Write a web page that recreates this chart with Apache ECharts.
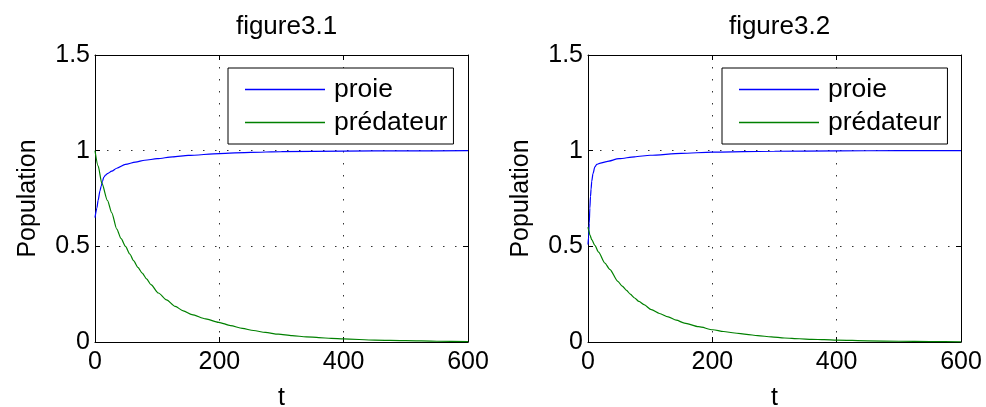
<!DOCTYPE html>
<html>
<head>
<meta charset="utf-8">
<script src="https://cdn.jsdelivr.net/npm/echarts@6/dist/echarts.min.js"></script>
<style>html,body{margin:0;padding:0;background:#fff;}#c{width:986px;height:407px;}</style>
</head>
<body>
<div id="c"></div>
<script>
// ---- data ----
const titles = ['figure3.1', 'figure3.2'];
const seriesNames = ['proie', 'prédateur'];
const xTicks = [0, 200, 400, 600];
const yTicks = [0, 0.5, 1, 1.5];

const tProieL = [0,3,5,8,10,12,14,17,20,27,35,49,65,80,100,125,150,200,250,300,400,500,600];
const proieL  = [0.65,0.70,0.74,0.79,0.815,0.84,0.86,0.872,0.88,0.893,0.908,0.928,0.94,0.95,0.958,0.968,0.975,0.985,0.991,0.995,0.998,0.999,1.0];

const tPredL = [0,5,11,20,27,35,42,49,56,62,69,76,83,90,102,115,129,142,156,178,199,218,237,255,274,295,317,340,360,380,400,450,500,550,600];
const predL  = [1.0,0.92,0.83,0.74,0.675,0.59,0.54,0.50,0.46,0.425,0.39,0.36,0.33,0.30,0.256,0.22,0.186,0.163,0.143,0.121,0.103,0.086,0.071,0.06,0.05,0.041,0.033,0.027,0.023,0.019,0.016,0.01,0.007,0.004,0.002];

const tProieR = [0,1,2,3,4,5,6,8,11,14,20,30,50,75,100,150,200,300,400,500,600];
const proieR  = [0.51,0.55,0.62,0.70,0.76,0.80,0.84,0.88,0.915,0.928,0.935,0.943,0.958,0.968,0.976,0.986,0.992,0.997,0.999,1.0,1.0];

const tPredR = [0,1,3,6,11,17,27,35,48,55,62,68,75,82,90,102,115,129,142,155,178,201,218,236,255,273,295,316,340,360,380,400,450,500,550,600];
const predR  = [0.60,0.585,0.56,0.535,0.505,0.47,0.413,0.38,0.317,0.292,0.27,0.25,0.23,0.212,0.195,0.169,0.149,0.131,0.114,0.099,0.08,0.064,0.055,0.047,0.04,0.033,0.027,0.021,0.017,0.014,0.012,0.01,0.006,0.004,0.002,0.001];

// ---- build ----
const FONT = "'Liberation Sans', Arial, Helvetica, sans-serif";
const FS = 25;
const pair = (t, v) => t.map((x, i) => [x, v[i]]);
const grids = [
  {left: 95, top: 55, width: 373, height: 287, containLabel: false, outerBoundsMode: 'none'},
  {left: 588, top: 55, width: 373, height: 287, containLabel: false, outerBoundsMode: 'none'}
];
const gridDash = {color: '#333', width: 1, type: [1.5, 10.5]};

const xAxis = [], yAxis = [];
grids.forEach((g, gi) => {
  xAxis.push({
    type: 'value', gridIndex: gi, min: xTicks[0], max: xTicks[xTicks.length-1], interval: 200,
    position: 'bottom',
    name: 't', nameLocation: 'middle', nameGap: 44,
    nameTextStyle: {color: '#000', fontSize: FS, fontFamily: FONT},
    axisLine: {show: true, onZero: false, lineStyle: {color: '#000', width: 1}},
    axisTick: {show: true, inside: true, length: 5, lineStyle: {color: '#000'}},
    axisLabel: {color: '#000', fontSize: FS, fontFamily: FONT, margin: 8},
    splitLine: {show: true, lineStyle: gridDash}
  });
  xAxis.push({
    type: 'value', gridIndex: gi, min: xTicks[0], max: xTicks[xTicks.length-1], interval: 200,
    position: 'top',
    axisLine: {show: true, onZero: false, lineStyle: {color: '#000', width: 1}},
    axisTick: {show: true, inside: true, length: 5, lineStyle: {color: '#000'}},
    axisLabel: {show: false},
    splitLine: {show: false}
  });
  yAxis.push({
    type: 'value', gridIndex: gi, min: yTicks[0], max: yTicks[yTicks.length-1], interval: 0.5,
    position: 'left',
    name: 'Population', nameLocation: 'middle', nameGap: 54,
    nameTextStyle: {color: '#000', fontSize: FS, fontFamily: FONT},
    axisLine: {show: true, onZero: false, lineStyle: {color: '#000', width: 1}},
    axisTick: {show: true, inside: true, length: 5, lineStyle: {color: '#000'}},
    axisLabel: {color: '#000', fontSize: FS, fontFamily: FONT, margin: 5},
    splitLine: {show: true, lineStyle: gridDash}
  });
  yAxis.push({
    type: 'value', gridIndex: gi, min: yTicks[0], max: yTicks[yTicks.length-1], interval: 0.5,
    position: 'right',
    axisLine: {show: true, onZero: false, lineStyle: {color: '#000', width: 1}},
    axisTick: {show: true, inside: true, length: 5, lineStyle: {color: '#000'}},
    axisLabel: {show: false},
    splitLine: {show: false}
  });
});

const mkLine = (name, data, color, gi) => ({
  type: 'line', name, data, xAxisIndex: gi*2, yAxisIndex: gi*2,
  showSymbol: false, symbol: 'none', animation: false,
  smooth: 0.25, smoothMonotone: 'x',
  lineStyle: {color, width: 1.2}, itemStyle: {color}
});

const series = [
  mkLine(seriesNames[0], pair(tProieL, proieL), '#0000ff', 0),
  mkLine(seriesNames[1], pair(tPredL, predL), '#008000', 0),
  mkLine(seriesNames[0], pair(tProieR, proieR), '#0000ff', 1),
  mkLine(seriesNames[1], pair(tPredR, predR), '#008000', 1)
];

const mkLegend = (left) => ({
  data: seriesNames, orient: 'vertical', left, top: 68,
  backgroundColor: '#fff', borderColor: '#000', borderWidth: 1,
  padding: [8, 6, 8, 17], itemGap: 6, itemWidth: 80, itemHeight: 1.5,
  icon: 'rect', selectedMode: false,
  textStyle: {color: '#000', fontSize: 26.5, fontFamily: FONT, padding: [0, 0, 0, 4], lineHeight: 27}
});

const option = {
  animation: false,
  backgroundColor: '#fff',
  title: titles.map((t, i) => ({
    text: t, left: grids[i].left + grids[i].width/2, top: 9, textAlign: 'center',
    textStyle: {color: '#000', fontSize: 26, fontWeight: 'normal', fontFamily: FONT}
  })),
  grid: grids,
  xAxis, yAxis, series,
  legend: [mkLegend(228), mkLegend(722)]
};

const chart = echarts.init(document.getElementById('c'), null, {renderer: 'canvas'});
chart.setOption(option);
</script>
</body>
</html>
